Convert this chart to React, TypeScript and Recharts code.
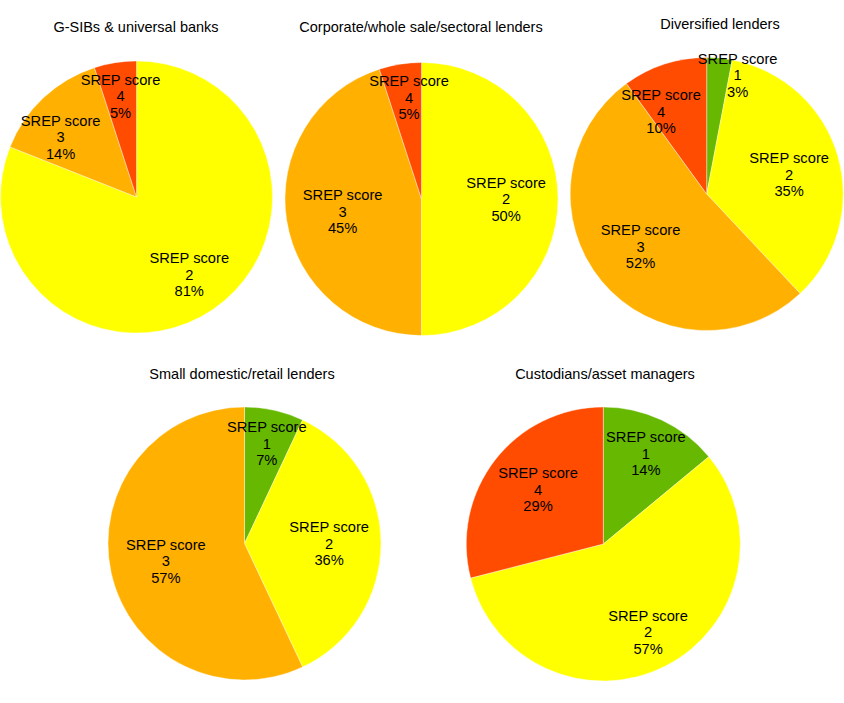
import React from "react";
import { PieChart, Pie, Cell } from "recharts";

// ---- data ----
const TITLES = [
  "G-SIBs & universal banks",
  "Corporate/whole sale/sectoral lenders",
  "Diversified lenders",
  "Small domestic/retail lenders",
  "Custodians/asset managers",
];
const SCORES_GSIB = [2, 3, 4];
const VALUES_GSIB = [81, 14, 5];
const SCORES_CORP = [2, 3, 4];
const VALUES_CORP = [50, 45, 5];
const SCORES_DIV = [1, 2, 3, 4];
const VALUES_DIV = [3, 35, 52, 10];
const SCORES_SMALL = [1, 2, 3];
const VALUES_SMALL = [7, 36, 57];
const SCORES_CUST = [1, 2, 4];
const VALUES_CUST = [14, 57, 29];
const LABEL_PREFIX = "SREP score";

// ---- styles / layout ----
const SCORE_COLORS: Record<number, string> = {
  1: "#66B800",
  2: "#FFFF00",
  3: "#FFB000",
  4: "#FF4C00",
};
const W = 844;
const H = 703;
const FONT = "'Liberation Sans', Arial, sans-serif";

const PIES = [
  { cx: 136.5, cy: 197, r: 136, tx: 136, ty: 27, dist: [0.69, 0.71, 0.75], shift: [0, -8.6, 0] },
  { cx: 421.5, cy: 199, r: 136.5, tx: 421, ty: 27, dist: [0.62, 0.585, 0.75], shift: [0, 0, 2] },
  { cx: 706.7, cy: 194, r: 136.5, tx: 720, ty: 24, dist: [0.9, 0.62, 0.62, 0.69], shift: [9.2, 3, 1, -11] },
  { cx: 244.5, cy: 543.5, r: 136.5, tx: 242, ty: 374, dist: [0.75, 0.62, 0.59], shift: [0, 0, 0] },
  { cx: 603.3, cy: 544, r: 137, tx: 605, ty: 374, dist: [0.73, 0.72, 0.62], shift: [0, 0, 2] },
];

const DATASETS = [
  [SCORES_GSIB, VALUES_GSIB],
  [SCORES_CORP, VALUES_CORP],
  [SCORES_DIV, VALUES_DIV],
  [SCORES_SMALL, VALUES_SMALL],
  [SCORES_CUST, VALUES_CUST],
].map(([scores, values]) =>
  scores.map((s, i) => ({ score: s, name: `${LABEL_PREFIX} ${s}`, value: values[i] }))
);

const RAD = Math.PI / 180;

function makeLabel(pieIdx: number) {
  const layout = PIES[pieIdx];
  return (props: any) => {
    const { cx, cy, midAngle, outerRadius, index, payload, value } = props;
    const d = (layout.dist[index] ?? 0.68) * outerRadius;
    const ang = midAngle - (layout.shift[index] ?? 0);
    const x = cx + d * Math.cos(-ang * RAD);
    const y = cy + d * Math.sin(-ang * RAD);
    const score = payload?.score ?? payload?.payload?.score;
    const lh = 16.5;
    return (
      <text
        x={x}
        y={y}
        textAnchor="middle"
        fontFamily={FONT}
        fontSize={14.7}
        fill="#000"
      >
        <tspan x={x} y={y - lh} dy="0.35em">{LABEL_PREFIX}</tspan>
        <tspan x={x} y={y} dy="0.35em">{score}</tspan>
        <tspan x={x} y={y + lh} dy="0.35em">{`${value}%`}</tspan>
      </text>
    );
  };
}

export default function App() {
  return (
    <div style={{ position: "absolute", left: 0, top: 0, width: W, height: H, background: "#fff" }}>
      <PieChart width={W} height={H} margin={{ top: 0, right: 0, bottom: 0, left: 0 }}>
        {DATASETS.map((data, i) => (
          <Pie
            key={i}
            data={data}
            dataKey="value"
            nameKey="name"
            cx={PIES[i].cx}
            cy={PIES[i].cy}
            outerRadius={PIES[i].r}
            innerRadius={0}
            startAngle={90}
            endAngle={-270}
            stroke="#ffffff"
            strokeWidth={0.4}
            labelLine={false}
            label={makeLabel(i)}
            isAnimationActive={false}
          >
            {data.map((d) => (
              <Cell key={d.score} fill={SCORE_COLORS[d.score]} />
            ))}
          </Pie>
        ))}
      </PieChart>
      {TITLES.map((t, i) => (
        <div
          key={t}
          style={{
            position: "absolute",
            left: PIES[i].tx,
            top: PIES[i].ty,
            transform: "translate(-50%, -50%)",
            whiteSpace: "nowrap",
            fontFamily: FONT,
            fontSize: 14.5,
            color: "#000",
            lineHeight: 1,
          }}
        >
          {t}
        </div>
      ))}
    </div>
  );
}
